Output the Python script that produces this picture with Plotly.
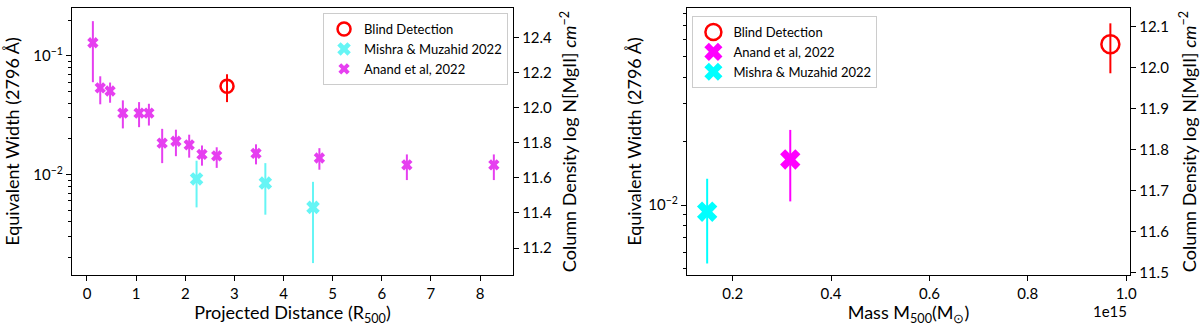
import numpy as np
import plotly.graph_objects as go

# Left panel: equivalent width vs projected distance
blind_dist = [2.85]
blind_ew = [0.0555]
blind_ew_hi = [0.070]
blind_ew_lo = [0.0408]

mishra_dist = [2.23, 3.63, 4.60]
mishra_ew = [0.0092, 0.0085, 0.0053]
mishra_ew_hi = [0.0131, 0.0125, 0.0087]
mishra_ew_lo = [0.0053, 0.0046, 0.0018]

anand_dist = [0.12, 0.27, 0.47, 0.73, 1.06, 1.26, 1.53, 1.81, 2.08, 2.34, 2.64, 3.44, 4.73, 6.51, 8.28]
anand_ew = [0.129, 0.0537, 0.0506, 0.033, 0.033, 0.033, 0.0184, 0.0191, 0.0178, 0.0148, 0.0144, 0.0151, 0.0138, 0.0121, 0.0121]
anand_ew_hi = [0.196, 0.0673, 0.0596, 0.0422, 0.0408, 0.0395, 0.0243, 0.0239, 0.0217, 0.0176, 0.0170, 0.0180, 0.0167, 0.0148, 0.0148]
anand_ew_lo = [0.060, 0.0391, 0.0403, 0.0245, 0.0251, 0.0259, 0.0125, 0.0143, 0.0139, 0.0119, 0.0114, 0.0122, 0.0110, 0.0090, 0.0090]

# Right panel: equivalent width vs cluster mass
blind_mass = [0.968e15]
blind_mass_ew = [0.0573]
blind_mass_ew_hi = [0.0719]
blind_mass_ew_lo = [0.0418]

anand_mass = [0.317e15]
anand_mass_ew = [0.0164]
anand_mass_ew_hi = [0.0226]
anand_mass_ew_lo = [0.0104]

mishra_mass = [0.148e15]
mishra_mass_ew = [0.0093]
mishra_mass_ew_hi = [0.0133]
mishra_mass_ew_lo = [0.0053]

mass_ticks = [0.2e15, 0.4e15, 0.6e15, 0.8e15, 1.0e15]
mass_ticktext = ["0.2", "0.4", "0.6", "0.8", "1.0"]

RED = "#ff0000"
MAGENTA_A = "#e63ff0"
CYAN_A = "#66f5f5"
MAGENTA = "#ff00ff"
CYAN = "#00ffff"

FONT = "Lato"


def err(val, hi, lo, color, thick=2):
    v, h, l = np.array(val), np.array(hi), np.array(lo)
    return dict(type="data", symmetric=False, array=h - v, arrayminus=v - l,
                color=color, thickness=thick, width=0)


def points(x, y, hi, lo, name, color, symbol, size, xa, ya, legend, open_=False):
    marker = dict(symbol=symbol, size=size, color=color)
    if open_:
        marker = dict(symbol="circle-open", size=size, color=color, line=dict(width=2.5, color=color))
    return go.Scatter(x=x, y=y, mode="markers", name=name, marker=marker,
                      error_y=err(y, hi, lo, color), xaxis=xa, yaxis=ya, legend=legend)


fig = go.Figure()

fig.add_trace(points(blind_dist, blind_ew, blind_ew_hi, blind_ew_lo, "Blind Detection",
                     RED, "circle-open", 13, "x", "y", "legend", open_=True))
fig.add_trace(points(mishra_dist, mishra_ew, mishra_ew_hi, mishra_ew_lo, "Mishra & Muzahid 2022",
                     CYAN_A, "x", 12, "x", "y", "legend"))
fig.add_trace(points(anand_dist, anand_ew, anand_ew_hi, anand_ew_lo, "Anand et al, 2022",
                     MAGENTA_A, "x", 10, "x", "y", "legend"))

fig.add_trace(points(blind_mass, blind_mass_ew, blind_mass_ew_hi, blind_mass_ew_lo, "Blind Detection",
                     RED, "circle-open", 18, "x2", "y2", "legend2", open_=True))
fig.add_trace(points(anand_mass, anand_mass_ew, anand_mass_ew_hi, anand_mass_ew_lo, "Anand et al, 2022",
                     MAGENTA, "x", 18, "x2", "y2", "legend2"))
fig.add_trace(points(mishra_mass, mishra_mass_ew, mishra_mass_ew_hi, mishra_mass_ew_lo, "Mishra & Muzahid 2022",
                     CYAN, "x", 18, "x2", "y2", "legend2"))

# empty traces so the twin (column density) axes get drawn
fig.add_trace(go.Scatter(x=[None], y=[None], xaxis="x", yaxis="y3", showlegend=False, hoverinfo="skip"))
fig.add_trace(go.Scatter(x=[None], y=[None], xaxis="x2", yaxis="y4", showlegend=False, hoverinfo="skip"))

ax_common = dict(showline=True, linecolor="black", linewidth=1.3, ticks="outside", ticklen=5,
                 tickcolor="black", showgrid=False, zeroline=False, automargin=False,
                 tickfont=dict(family=FONT, size=15, color="black"),
                 title_font=dict(family=FONT, size=18, color="black"))

minor_log = [k * 10.0 ** e for e in (-3, -2, -1) for k in range(2, 10)]
col_title = "Column Density log N[MgII] <i>cm</i><sup>−2</sup>"
ew_title = "Equivalent Width (2796 Å)"

fig.update_layout(
    width=1200, height=326,
    margin=dict(l=0, r=0, t=8, b=51),
    paper_bgcolor="white", plot_bgcolor="white",
    font=dict(family=FONT, color="black"),
    xaxis=dict(ax_common, domain=[0.06, 0.4275], range=[-0.305, 8.67], dtick=1,
               mirror=True, anchor="y",
               title=dict(text="Projected Distance (R<sub>500</sub>)", standoff=3)),
    yaxis=dict(ax_common, type="log", range=[-2.845, -0.597], anchor="x",
               tickvals=[0.01, 0.1], ticktext=["10<sup>−2</sup>", "10<sup>−1</sup>"],
               minor=dict(ticks="outside", ticklen=3, tickcolor="black", tickvals=minor_log),
               title=dict(text=ew_title, standoff=8)),
    yaxis3=dict(ax_common, overlaying="y", side="right", anchor="x", range=[11.047, 12.567],
                dtick=0.2, tickformat=".1f",
                title=dict(text=col_title, standoff=12)),
    xaxis2=dict(ax_common, domain=[0.5725, 0.9417], range=[1.07e14, 1.008e15],
                tickvals=mass_ticks, ticktext=mass_ticktext, mirror=True, anchor="y2",
                title=dict(text="Mass M<sub>500</sub>(M<sub>⊙</sub>)", standoff=3)),
    yaxis2=dict(ax_common, type="log", range=[-2.330, -1.071], anchor="x2",
                tickvals=[0.01], ticktext=["10<sup>−2</sup>"],
                minor=dict(ticks="outside", ticklen=3, tickcolor="black", tickvals=minor_log),
                title=dict(text=ew_title, standoff=1)),
    yaxis4=dict(ax_common, overlaying="y2", side="right", anchor="x2", range=[11.494, 12.146],
                dtick=0.1, tickformat=".1f",
                title=dict(text=col_title, standoff=17)),
    legend=dict(x=0.2692, y=0.981, xanchor="left", yanchor="top", bgcolor="white",
                bordercolor="#cccccc", borderwidth=1, font=dict(family=FONT, size=13)),
    legend2=dict(x=0.577, y=0.970, xanchor="left", yanchor="top", bgcolor="white",
                 bordercolor="#cccccc", borderwidth=1, font=dict(family=FONT, size=13)),
    annotations=[dict(text="1e15", x=0.925, y=-0.135, xref="paper", yref="paper",
                      xanchor="center", yanchor="middle", showarrow=False,
                      font=dict(family=FONT, size=15, color="black"))],
)

# drop the default 8px page margin so the figure sits at the window's corner
fig.write_html("out.html", config={"displayModeBar": False},
               post_script="document.body.style.margin='0';")
